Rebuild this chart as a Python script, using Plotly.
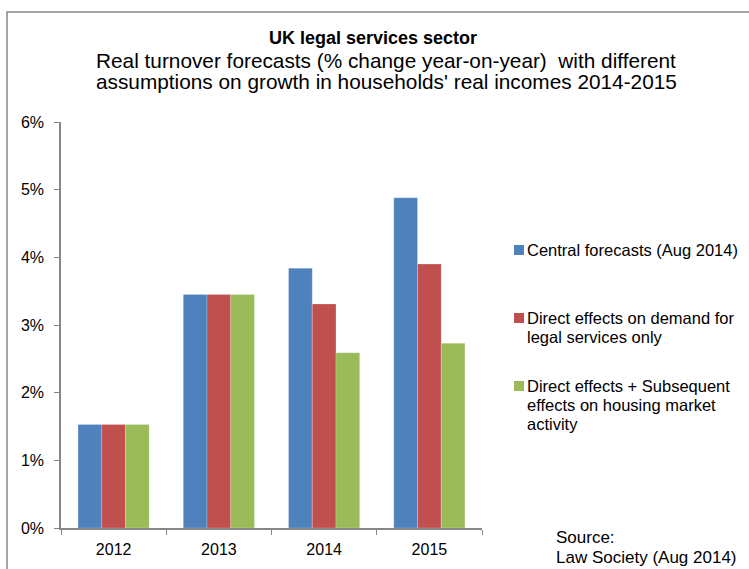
import plotly.graph_objects as go

years = ["2012", "2013", "2014", "2015"]
central = [1.53, 3.45, 3.84, 4.88]
direct = [1.53, 3.45, 3.31, 3.90]
direct_housing = [1.53, 3.45, 2.59, 2.73]

series_names = [
    "Central forecasts (Aug 2014)",
    "Direct effects on demand for legal services only",
    "Direct effects + Subsequent effects on housing market activity",
]
# legend text, broken into the lines that are drawn
legend_lines = [
    ["Central forecasts (Aug 2014)"],
    ["Direct effects on demand for", "legal services only"],
    ["Direct effects + Subsequent", "effects on housing market", "activity"],
]
series_values = [central, direct, direct_housing]
series_colors = ["#4F81BD", "#C0504D", "#9BBB59"]
y_ticks = [0, 1, 2, 3, 4, 5, 6]
y_tick_text = [f"{v}%" for v in y_ticks]

title_text = "UK legal services sector"
subtitle_lines = [
    "Real turnover forecasts (% change year-on-year)  with different",
    "assumptions on growth in households' real incomes 2014-2015",
]
source_lines = ["Source:", "Law Society (Aug 2014)"]

FONT = "Liberation Sans, Arial, sans-serif"
AXIS_GREY = "#868686"

fig = go.Figure()
for name, vals, col in zip(series_names, series_values, series_colors):
    fig.add_trace(go.Bar(
        x=years, y=vals, name=name, showlegend=False,
        marker=dict(color=col, line=dict(color="rgba(255,255,255,0.35)", width=0.6)),
    ))

L, R, T, B = 61, 267, 122, 41
W, H = 749, 569
pw, ph = W - L - R, H - T - B


def px_x(p):
    return (p - L) / pw


def px_y(p):
    return (H - B - p) / ph


def text_ann(text, x, y, size, anchor="left", bold=False):
    return dict(
        text=f"<b>{text}</b>" if bold else text,
        xref="paper", yref="paper", x=px_x(x), y=px_y(y),
        xanchor=anchor, yanchor="middle", showarrow=False,
        font=dict(size=size, color="#000000"),
    )


annotations = [text_ann(title_text, 373, 38, 18, "center", bold=True)]
for i, line in enumerate(subtitle_lines):
    annotations.append(text_ann(line, 386, 61 + 21 * i, 20.8, "center"))
for i, line in enumerate(source_lines):
    annotations.append(text_ann(line, 554, 537 + 20 * i, 17))

shapes = [dict(
    type="rect", xref="paper", yref="paper",
    x0=px_x(7), x1=px_x(760), y0=px_y(580), y1=px_y(12),
    line=dict(color=AXIS_GREY, width=1.5), fillcolor="rgba(0,0,0,0)",
    layer="below",
)]

# legend: coloured key square followed by its text lines
legend_top = [250, 318, 386]
for lines, col, y0 in zip(legend_lines, series_colors, legend_top):
    shapes.append(dict(
        type="rect", xref="paper", yref="paper",
        x0=px_x(514), x1=px_x(524), y0=px_y(y0 + 5), y1=px_y(y0 - 5),
        line=dict(width=0), fillcolor=col,
    ))
    for j, line in enumerate(lines):
        annotations.append(text_ann(line, 525, y0 + 19 * j, 16.5))

fig.update_layout(
    width=W, height=H,
    margin=dict(l=L, r=R, t=T, b=B),
    paper_bgcolor="white", plot_bgcolor="white",
    font=dict(family=FONT, size=16, color="#000000"),
    barmode="group", bargap=0.324, bargroupgap=0,
    showlegend=False,
    xaxis=dict(
        showline=True, linecolor=AXIS_GREY, linewidth=1.5,
        ticks="outside", tickson="boundaries", ticklen=5, tickcolor=AXIS_GREY,
        tickfont=dict(size=16), showgrid=False, ticklabelstandoff=6,
    ),
    yaxis=dict(
        range=[0, 6], tickvals=y_ticks, ticktext=y_tick_text,
        showline=True, linecolor=AXIS_GREY, linewidth=1.5,
        ticks="outside", ticklen=5, tickcolor=AXIS_GREY,
        tickfont=dict(size=16), showgrid=False, zeroline=False,
        ticklabelstandoff=7,
    ),
    shapes=shapes,
    annotations=annotations,
)

fig.write_html("out.html")
